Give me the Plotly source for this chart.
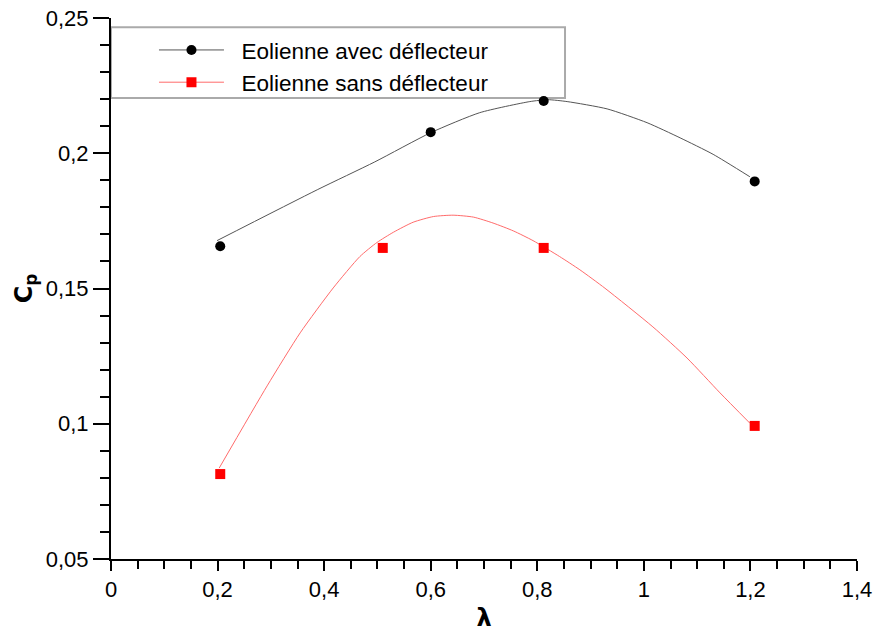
import plotly.graph_objects as go

# Measured data points
lam_avec = [0.205, 0.600, 0.812, 1.208]
cp_avec = [0.1656, 0.2078, 0.2193, 0.1896]
lam_sans = [0.205, 0.510, 0.812, 1.208]
cp_sans = [0.0814, 0.1650, 0.1650, 0.0992]

# Fitted curves
curve_lam_avec = [0.199, 0.387, 0.495, 0.600, 0.692, 0.786, 0.820, 0.856, 0.931, 1.006, 1.068, 1.130, 1.199]
curve_cp_avec = [0.1677, 0.1865, 0.1968, 0.2076, 0.2150, 0.2191, 0.2198, 0.2191, 0.2164, 0.2113, 0.2057, 0.1996, 0.1913]
curve_lam_sans = [0.203, 0.293, 0.355, 0.417, 0.467, 0.499, 0.530, 0.567, 0.605, 0.642, 0.680, 0.717, 0.755,
                  0.792, 0.842, 0.880, 0.927, 1.017, 1.081, 1.143, 1.199]
curve_cp_sans = [0.0836, 0.1140, 0.1336, 0.1502, 0.1618, 0.1670, 0.1708, 0.1745, 0.1766, 0.1771, 0.1764, 0.1742,
                 0.1713, 0.1677, 0.1618, 0.1569, 0.1501, 0.1358, 0.1243, 0.1114, 0.1002]

name_avec = "Eolienne avec déflecteur"
name_sans = "Eolienne sans déflecteur"

x_ticks = [0, 0.2, 0.4, 0.6, 0.8, 1.0, 1.2, 1.4]
x_ticktext = ["0", "0,2", "0,4", "0,6", "0,8", "1", "1,2", "1,4"]
y_ticks = [0.05, 0.10, 0.15, 0.20, 0.25]
y_ticktext = ["0,05", "0,1", "0,15", "0,2", "0,25"]

FONT = "Liberation Sans, Arial, sans-serif"
black_line = "#555555"
red_line = "#ff6b6b"
PAD = "\u00a0\u00a0"

fig = go.Figure()

fig.add_trace(go.Scatter(x=curve_lam_avec, y=curve_cp_avec, mode="lines",
                         line=dict(color=black_line, width=1, shape="spline", smoothing=0.6),
                         showlegend=False, legendgroup="a", hoverinfo="skip"))
fig.add_trace(go.Scatter(x=curve_lam_sans, y=curve_cp_sans, mode="lines",
                         line=dict(color=red_line, width=1, shape="spline", smoothing=0.6),
                         showlegend=False, legendgroup="s", hoverinfo="skip"))
fig.add_trace(go.Scatter(x=lam_avec, y=cp_avec, mode="markers", marker=dict(color="black", size=10, symbol="circle"),
                         showlegend=False, legendgroup="a", name=name_avec))
fig.add_trace(go.Scatter(x=lam_sans, y=cp_sans, mode="markers", marker=dict(color="#ff0000", size=10, symbol="square"),
                         showlegend=False, legendgroup="s", name=name_sans))
# legend entries (line + marker)
fig.add_trace(go.Scatter(x=[None], y=[None], mode="lines+markers", name=PAD + name_avec, legendgroup="a",
                         line=dict(color=black_line, width=1), marker=dict(color="black", size=10, symbol="circle")))
fig.add_trace(go.Scatter(x=[None], y=[None], mode="lines+markers", name=PAD + name_sans, legendgroup="s",
                         line=dict(color=red_line, width=1), marker=dict(color="#ff0000", size=10, symbol="square")))

fig.add_shape(type="rect", xref="paper", yref="paper", x0=0, x1=0.6086, y0=0.852, y1=0.983,
              line=dict(color="#aaaaaa", width=2), fillcolor="white", layer="below")

fig.update_layout(
    width=874, height=635,
    margin=dict(l=111, r=17, t=18, b=76),
    paper_bgcolor="white", plot_bgcolor="white",
    font=dict(family=FONT, color="black", size=22),
    legend=dict(x=0.0576, y=0.98, xanchor="left", yanchor="top", bgcolor="rgba(0,0,0,0)",
                borderwidth=0, itemwidth=65, font=dict(size=22.5, family=FONT), tracegroupgap=0),
    xaxis=dict(range=[0, 1.4], tickvals=x_ticks, ticktext=x_ticktext, showgrid=False, zeroline=False,
               automargin=False, ticklabeloverflow="allow",
               showline=True, linecolor="black", linewidth=2, ticks="outside", ticklen=10, tickwidth=1.5,
               tickcolor="black", tickfont=dict(size=22, family=FONT),
               minor=dict(dtick=0.05, ticks="outside", ticklen=8, tickwidth=1.5, tickcolor="black", showgrid=False),
               title=dict(text="<b>λ</b>", font=dict(size=24, family="DejaVu Sans"), standoff=8)),
    yaxis=dict(range=[0.05, 0.25], tickvals=y_ticks, ticktext=y_ticktext, showgrid=False, zeroline=False,
               automargin=False, ticklabeloverflow="allow",
               showline=True, linecolor="black", linewidth=2, ticks="outside", ticklen=16, tickwidth=1.5,
               tickcolor="black", tickfont=dict(size=22, family=FONT),
               minor=dict(dtick=0.01, ticks="outside", ticklen=9, tickwidth=1.5, tickcolor="black", showgrid=False),
               title=dict(text="<b>C<sub>p</sub></b>", font=dict(size=24, family="DejaVu Sans"), standoff=6)),
)

fig.write_html("out.html", config={"displayModeBar": False},
               post_script="document.body.style.margin='0px';document.body.style.overflow='hidden';")
